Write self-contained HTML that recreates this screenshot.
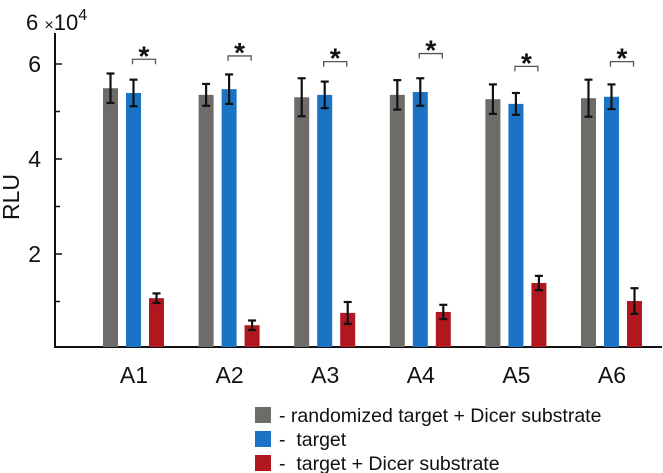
<!DOCTYPE html>
<html><head><meta charset="utf-8"><style>
body{margin:0;background:#fff}
svg{display:block;font-family:"Liberation Sans",Arial,sans-serif}
</style></head><body>
<svg id="chart" width="663" height="473">
<g id="axes"></g><g id="marks"></g><g id="legend"></g>
</svg>
<script>
const categories=["A1","A2","A3","A4","A5","A6"];
const randomizedValues=[5.49,5.35,5.30,5.35,5.26,5.28];
const randomizedErr=[0.31,0.23,0.40,0.31,0.31,0.39];
const targetValues=[5.39,5.47,5.35,5.41,5.16,5.31];
const targetErr=[0.28,0.31,0.28,0.29,0.23,0.26];
const dicerValues=[1.07,0.50,0.76,0.78,1.39,1.01];
const dicerErr=[0.10,0.10,0.23,0.15,0.15,0.27];
const bracketLevels=[6.1,6.17,6.05,6.22,5.95,6.05];
const yTicks=[2,4,6];
const yMinor=[1,3,5];
const NS="http://www.w3.org/2000/svg";
function mk(parent,tag,attrs,text){const e=document.createElementNS(NS,tag);for(const k in attrs)e.setAttribute(k,attrs[k]);if(text!==undefined)e.textContent=text;parent.appendChild(e);return e;}
const y0=349,pxPer=47.5;
const y=v=>y0-v*pxPer;
const groupX=i=>103+i*95.6;
const bw=15;
const axes=document.getElementById('axes'),marks=document.getElementById('marks'),legend=document.getElementById('legend');
let e;
e=mk(axes,'line',{x1:55,y1:33,x2:55,y2:348,stroke:'#111','stroke-width':2});


e=mk(axes,'line',{x1:54,y1:347,x2:662,y2:347,stroke:'#111','stroke-width':2});


yTicks.forEach(t=>{
 e=mk(axes,'line',{x1:55,y1:y(t),x2:62,y2:y(t),stroke:'#111','stroke-width':1.5});
 
 
 e=mk(axes,'text',{x:41,y:y(t)+8,'font-size':23,'text-anchor':'end',fill:'#111'},String(t));
 
 
});
yMinor.forEach(t=>{
 e=mk(axes,'line',{x1:55,y1:y(t),x2:60,y2:y(t),stroke:'#111','stroke-width':1.5});
 
 
});
e=mk(axes,'text',{x:26,y:30,'font-size':22,fill:'#111'});
e.innerHTML='6 <tspan font-size="16">×</tspan>10<tspan dy="-10" font-size="16">4</tspan>';


e=mk(axes,'text',{x:0,y:0,'font-size':23,fill:'#111','text-anchor':'middle',transform:'translate(19,197) rotate(-90)'},'RLU');


const series=[[randomizedValues,randomizedErr,'#6e6c68','bar-randomized'],[targetValues,targetErr,'#1a73c4','bar-target'],[dicerValues,dicerErr,'#b0171f','bar-target-dicer']];
categories.forEach((c,i)=>{
 const gx=groupX(i);
 series.forEach((s,j)=>{
  const x=gx+j*23,v=s[0][i],er=s[1][i];
  e=mk(marks,'rect',{x:x,y:y(v),width:bw,height:y0-2-y(v),fill:s[2]});
  
  
  const cx=x+bw/2;
  const g=mk(marks,'g',{stroke:'#111','stroke-width':2.2});
  
  
  mk(g,'line',{x1:cx,y1:y(v+er),x2:cx,y2:y(v-er)});
  mk(g,'line',{x1:cx-4,y1:y(v+er),x2:cx+4,y2:y(v+er)});
  mk(g,'line',{x1:cx-4,y1:y(v-er),x2:cx+4,y2:y(v-er)});
 });
 const bx1=gx+23+bw/2-1,bx2=gx+46+bw/2-1,by=y(bracketLevels[i]);
 e=mk(marks,'path',{d:`M${bx1},${by+5}V${by}H${bx2}V${by+5}`,fill:'none',stroke:'#555','stroke-width':1.3});
 
 
 e=mk(marks,'text',{x:(bx1+bx2)/2,y:by+6,'font-size':28,'font-weight':'bold','text-anchor':'middle',fill:'#111'},'*');
 
 
 e=mk(marks,'text',{x:gx+31,y:383,'font-size':23,'text-anchor':'middle',fill:'#111'},c);
 
 
});
const legendItems=[['#6e6c68','- randomized target + Dicer substrate'],['#1a73c4','-\u00a0\u00a0target'],['#b0171f','-\u00a0\u00a0target + Dicer substrate']];
legendItems.forEach((l,k)=>{
 const ly=407+k*24;
 e=mk(legend,'rect',{x:255,y:ly,width:16,height:16,fill:l[0]});
 
 
 e=mk(legend,'text',{x:279,y:ly+15,'font-size':19.5,fill:'#111'},l[1]);
 
 
});
</script>
</body></html>
